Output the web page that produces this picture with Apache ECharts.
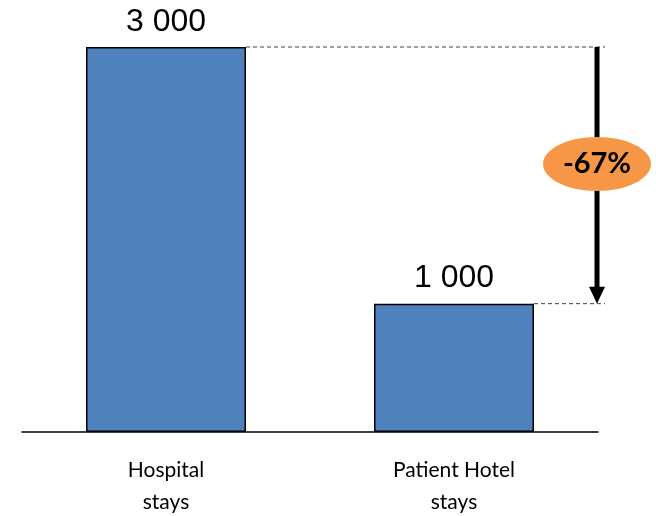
<!DOCTYPE html>
<html>
<head>
<meta charset="utf-8">
<script src="https://cdn.jsdelivr.net/npm/echarts@6/dist/echarts.min.js"></script>
<style>
  html, body { margin: 0; padding: 0; background: #fff; }
  #main { width: 656px; height: 516px; }
</style>
</head>
<body>
<div id="main"></div>
<script>
var categories = ['Hospital\nstays', 'Patient Hotel\nstays'];
var stays = [3000, 1000];
var changeLabel = '-67%';

var chart = echarts.init(document.getElementById('main'));

function fmt(v) {
    return String(v).replace(/\B(?=(\d{3})+(?!\d))/g, ' ');
}

var barW = 160;

var option = {
    animation: false,
    grid: { left: 22, right: 58, top: 47, bottom: 84, outerBoundsMode: 'none' },
    xAxis: {
        type: 'category',
        data: categories,
        axisLine: { lineStyle: { color: '#000', width: 1.5 } },
        axisTick: { show: false },
        axisLabel: {
            color: '#000',
            fontFamily: 'Lato',
            fontSize: 21,
            lineHeight: 32,
            margin: 22
        }
    },
    yAxis: {
        type: 'value',
        min: 0,
        max: 3000,
        show: false
    },
    series: [{
        type: 'bar',
        data: stays,
        barWidth: barW,
        itemStyle: { color: '#4F81BD', borderColor: '#000', borderWidth: 1.5 },
        label: {
            show: true,
            position: 'top',
            distance: 9,
            color: '#000',
            fontFamily: 'Liberation Sans',
            fontSize: 32,
            formatter: function (p) { return fmt(p.value); }
        }
    }]
};
chart.setOption(option);

// annotation: dashed guides, arrow and the change bubble
var arrowX = 597;
var guideEnd = 605;
var y0 = chart.convertToPixel({ yAxisIndex: 0 }, stays[0]);
var y1 = chart.convertToPixel({ yAxisIndex: 0 }, stays[1]);
var x0 = chart.convertToPixel({ xAxisIndex: 0 }, categories[0]) + barW / 2;
var x1 = chart.convertToPixel({ xAxisIndex: 0 }, categories[1]) + barW / 2;
var midY = 164;

chart.setOption({
    graphic: [
        {
            type: 'line',
            shape: { x1: x0, y1: y0, x2: guideEnd, y2: y0 },
            style: { stroke: '#404040', lineWidth: 1, lineDash: [4, 3] }
        },
        {
            type: 'line',
            shape: { x1: x1, y1: y1, x2: guideEnd, y2: y1 },
            style: { stroke: '#404040', lineWidth: 1, lineDash: [4, 3] }
        },
        {
            type: 'line',
            shape: { x1: arrowX, y1: y0, x2: arrowX, y2: y1 - 15 },
            style: { stroke: '#000', lineWidth: 5 }
        },
        {
            type: 'polygon',
            shape: { points: [[arrowX - 8, y1 - 17], [arrowX + 8, y1 - 17], [arrowX, y1]] },
            style: { fill: '#000' }
        },
        {
            type: 'ellipse',
            shape: { cx: arrowX, cy: midY, rx: 54, ry: 27 },
            style: { fill: '#F79646' }
        },
        {
            type: 'text',
            x: arrowX,
            y: midY,
            style: {
                text: changeLabel,
                fill: '#000',
                font: 'bold 29px Lato',
                align: 'center',
                verticalAlign: 'middle'
            }
        }
    ]
});
</script>
</body>
</html>
